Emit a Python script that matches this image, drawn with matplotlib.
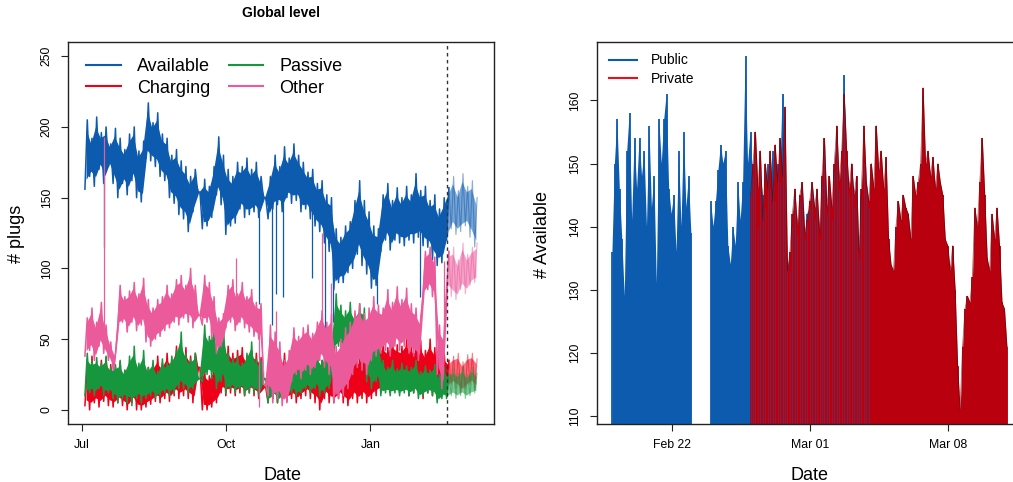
import numpy as np
import pandas as pd
import matplotlib
matplotlib.use("Agg")
import matplotlib.pyplot as plt
import matplotlib.dates as mdates
from matplotlib.lines import Line2D

plt.rcParams["font.family"] = ["Liberation Sans", "DejaVu Sans"]

nan = float("nan")

# -----------------------------------------------------------------------------
# LEFT PANEL: 3-day bins starting 2020-07-02, low / high envelope per bin
# -----------------------------------------------------------------------------
bin_start = "2020-07-02"
bin_days = 3
split_date = "2021-02-19 06:00"

available_lo = [156, 165, 158, 170, 160, 172, 160, 150, 160, 152,
                162, 150, 147, 178, 176, 172, 165, 162, 150, 146,
                138, 135, 126, 140, 154, 128, 130, 136, 152, 145,
                124, 130, 132, 142, 136, 138, 140, 136, 150, 135,
                142, 145, 140, 150, 146, 148, 140, 142, 135, 130,
                126, 118, 112, 85, 90, 90, 97, 100, 110, 102,
                96, 86, 88, 112, 120, 113, 120, 118, 116, 120,
                118, 122, 116, 115, 106, 102, 104, 120, 128, 124,
                126, 130, 122, 115]
available_hi = [205, 192, 207, 196, 200, 188, 199, 192, 184, 195,
                200, 183, 190, 217, 203, 210, 195, 192, 180, 184,
                176, 172, 165, 170, 154, 163, 158, 172, 193, 180,
                170, 165, 175, 172, 178, 170, 175, 165, 150, 165,
                180, 172, 186, 178, 188, 180, 175, 168, 170, 160,
                162, 152, 150, 128, 122, 130, 133, 148, 162, 148,
                140, 130, 128, 152, 160, 148, 157, 150, 158, 152,
                167, 155, 158, 148, 152, 142, 150, 157, 165, 155,
                167, 158, 162, 150]

charging_lo = [3, 0, 5, 2, 6, 3, 2, 5, 3, 0,
               5, 0, 0, 2, 4, 6, 5, 8, 6, 10,
               8, 10, 8, 5, 30, 0, 0, 2, 5, 12,
               10, 12, 10, 12, 10, 12, 10, 8, 16, 5,
               8, 5, 8, 6, 8, 5, 8, 10, 8, 5,
               0, 8, 5, 5, 8, 5, 3, 8, 5, 8,
               5, 8, 10, 12, 15, 12, 15, 12, 15, 10,
               12, 15, 8, 12, 10, 8, 10, 15, 18, 15,
               12, 15, 18, 15]
charging_hi = [32, 38, 30, 35, 37, 32, 30, 34, 28, 30,
               35, 28, 25, 30, 32, 38, 33, 40, 36, 45,
               40, 44, 38, 40, 30, 28, 24, 30, 35, 44,
               45, 40, 42, 44, 38, 42, 40, 37, 16, 30,
               38, 33, 40, 35, 38, 34, 40, 45, 38, 40,
               35, 45, 40, 35, 42, 36, 35, 41, 37, 43,
               35, 40, 45, 48, 44, 50, 46, 45, 50, 46,
               45, 49, 42, 50, 44, 42, 40, 35, 38, 40,
               34, 39, 40, 36]

passive_lo = [10, 12, 10, 15, 10, 12, 8, 5, 8, 5,
              3, 8, 5, 8, 10, 8, 10, 12, 10, 12,
              15, 15, 12, 15, 22, 20, 25, 22, 15, 20,
              12, 15, 12, 15, 10, 12, 12, 10, 22, 5,
              8, 5, 8, 10, 12, 10, 12, 15, 12, 15,
              10, 12, 15, 40, 45, 38, 40, 42, 35, 40,
              20, 15, 20, 10, 12, 10, 12, 10, 12, 10,
              12, 8, 10, 12, 10, 5, 8, 8, 10, 8,
              10, 8, 10, 12]
passive_hi = [40, 35, 37, 33, 38, 30, 32, 35, 28, 38,
              45, 33, 42, 30, 35, 27, 36, 33, 38, 42,
              55, 40, 36, 40, 22, 60, 52, 58, 45, 62,
              40, 36, 38, 33, 40, 48, 36, 35, 22, 30,
              35, 27, 31, 30, 35, 29, 33, 36, 32, 40,
              35, 42, 45, 82, 74, 70, 76, 68, 75, 72,
              55, 48, 50, 35, 30, 35, 29, 33, 31, 30,
              35, 27, 31, 28, 32, 25, 30, 25, 29, 26,
              30, 25, 30, 26]

other_lo = [38, 42, 35, 45, 40, 35, 28, 58, 62, 55,
            62, 56, 60, 48, 45, 50, 52, 56, 58, 62,
            60, 65, 62, 58, 67, 60, 62, 50, 40, 45,
            58, 62, 56, 62, 58, 55, 52, 50, 18, 10,
            5, 8, 3, 5, 20, 25, 22, 28, 25, 30,
            35, 30, 25, 5, 8, 10, 15, 25, 30, 28,
            25, 35, 38, 40, 42, 38, 45, 42, 45, 40,
            38, 35, 80, 85, 80, 25, 15, 85, 80, 78,
            85, 82, 88, 90]
other_hi = [65, 72, 62, 76, 60, 48, 40, 88, 80, 84,
            90, 82, 93, 78, 72, 78, 80, 88, 82, 92,
            95, 88, 100, 88, 67, 95, 90, 80, 65, 68,
            88, 92, 82, 90, 80, 85, 76, 75, 18, 60,
            55, 48, 35, 42, 58, 52, 58, 60, 54, 62,
            70, 62, 68, 45, 50, 58, 62, 70, 75, 68,
            72, 80, 74, 72, 85, 76, 87, 78, 86, 75,
            72, 65, 112, 115, 108, 60, 55, 112, 115, 106,
            118, 110, 115, 118]

# isolated spikes (single readings far from the band)
available_spike_dates = ["2020-07-15", "2020-10-22", "2020-10-30", "2020-11-02",
                         "2020-11-06", "2020-11-25", "2020-12-03", "2020-12-08",
                         "2021-01-05", "2021-02-02"]
available_spike_values = [115, 75, 60, 82, 80, 93, 56, 62, 75, 80]
other_spike_dates = ["2020-07-15", "2020-10-07", "2020-10-22", "2020-11-02",
                     "2020-12-01", "2020-12-07", "2021-02-17"]
other_spike_values = [193, 107, 2, 70, 125, 90, 105]

# -----------------------------------------------------------------------------
# RIGHT PANEL: 3-hourly readings
# -----------------------------------------------------------------------------
public_start = "2021-02-19"
public_available = [136, 150, 157, 146, 138, 129, 152, 158, 141, 154,
                    146, 154, 148, 152, 140, 156, 143, 148, 131, 157,
                    150, 157, 161, 146, 142, 145, 136, 152, 140, 155,
                    143, 148, 139, nan, nan, nan, nan, nan, nan, nan,
                    144, 140, 144, 149, 153, 150, 152, 137, 134, 140,
                    137, 147, 141, 147, 167, 150, 155,
                    148, 151, 140, 149, 145, 143, 150, 146, 152, 144,
                    150, 147, 161, 150, 135, 133, 140, 145, 139, 144,
                    146, 138, 142, 143, 146, 141, 145, 138, 147, 152,
                    142, 146, 141, 149, 154, 146, 150, 164, 150, 145,
                    148, 143, 146, 135, 145, 150, 146, 143]
private_start = "2021-02-26"
private_available = [145, 150, 155, 146, 152, 141, 150, 146, 152, 144,
                     153, 147, 154, 148, 159, 133, 136, 142, 146, 140,
                     145, 147, 139, 141, 144, 147, 143, 146, 139, 148,
                     154, 143, 148, 143, 150, 156, 147, 152, 161, 152,
                     146, 150, 145, 148, 136, 146, 156, 147, 144, 150,
                     146, 156, 149, 152, 146, 151, 138, 134, 133, 140,
                     144, 141, 145, 143, 142, 138, 148, 145, 147, 150,
                     162, 150, 152, 148, 151, 146, 150, 147, 145, 138,
                     137, 133, 137, 130, 118, 111, 121, 127, 129, 128,
                     132, 143, 140, 147, 154, 145, 135, 133, 142, 138,
                     143, 137, 128, 127, 121]

BLUE = "#0D5BAF"
RED = "#EE0019"
GREEN = "#16973E"
PINK = "#EB5A9B"
RED_DARK = "#B9000F"

# -----------------------------------------------------------------------------
# FIGURE
# -----------------------------------------------------------------------------
fig = plt.figure(figsize=(10.13, 4.82), dpi=100)
ax1 = fig.add_axes([0.0671, 0.1203, 0.4206, 0.7925])
ax2 = fig.add_axes([0.589, 0.1203, 0.4206, 0.7925])

nb = len(available_lo)
t0 = mdates.date2num(pd.Timestamp(bin_start))
idx = np.arange(nb)
centers = t0 + bin_days * idx + 1.5
t_lo = t0 + bin_days * idx + 0.75
t_hi = t0 + bin_days * idx + 2.25
zig_t = np.column_stack([t_lo, t_hi]).ravel()
split = mdates.date2num(pd.Timestamp(split_date))
c_cut = np.searchsorted(centers, split)
z_cut = np.searchsorted(zig_t, split)


def draw_band(ax, lo, hi, color, z):
    lo = np.asarray(lo, float)
    hi = np.asarray(hi, float)
    zig_v = np.column_stack([lo, hi]).ravel()
    # solid body of the band, spiky fringe from the zigzag
    body_lo = lo + 0.14 * (hi - lo)
    body_hi = hi - 0.14 * (hi - lo)
    ax.fill_between(centers[:c_cut + 1], body_lo[:c_cut + 1], body_hi[:c_cut + 1],
                    color=color, lw=0, zorder=z)
    ax.plot(zig_t[:z_cut + 1], zig_v[:z_cut + 1], color=color, lw=1.1, zorder=z)
    # after the split: faded
    ax.fill_between(centers[c_cut:], body_lo[c_cut:], body_hi[c_cut:],
                    color=color, alpha=0.55, lw=0, zorder=z)
    ax.plot(zig_t[z_cut:], zig_v[z_cut:], color=color, lw=0.8, alpha=0.5, zorder=z)
    return (lo + hi) / 2


def draw_spikes(ax, dates, values, mid, color, z):
    xs = mdates.date2num(pd.to_datetime(dates))
    base = np.interp(xs, centers, mid)
    ax.vlines(xs, values, base, color=color, lw=0.9, zorder=z)


mid_av = draw_band(ax1, available_lo, available_hi, BLUE, 2)
draw_spikes(ax1, available_spike_dates, available_spike_values, mid_av, BLUE, 2)
draw_band(ax1, charging_lo, charging_hi, RED, 3)
draw_band(ax1, passive_lo, passive_hi, GREEN, 4)
mid_ot = draw_band(ax1, other_lo, other_hi, PINK, 5)
draw_spikes(ax1, other_spike_dates, other_spike_values, mid_ot, PINK, 5)

ax1.axvline(split, color="#333333", lw=1.0, ls=(0, (2.5, 2.5)), zorder=6)

span = (t0, t0 + bin_days * nb)
pad = 0.04 * (span[1] - span[0])
ax1.set_xlim(span[0] - pad, span[1] + pad)
ax1.set_ylim(-10, 260)
ax1.set_yticks([0, 50, 100, 150, 200, 250])
month_ticks = pd.to_datetime(["2020-07-01", "2020-10-01", "2021-01-01"])
ax1.set_xticks(mdates.date2num(month_ticks))
ax1.set_xticklabels([d.strftime("%b") for d in month_ticks])

handles = [Line2D([], [], color=BLUE, lw=1.5), Line2D([], [], color=RED, lw=1.5),
           Line2D([], [], color=GREEN, lw=1.5), Line2D([], [], color=PINK, lw=1.5)]
ax1.legend(handles, ["Available", "Charging", "Passive", "Other"], ncol=2,
           loc="upper left", bbox_to_anchor=(0.043, 0.957), frameon=False,
           fontsize=13, handlelength=1.9, handletextpad=0.9, columnspacing=1.05,
           labelspacing=0.23, borderpad=0, borderaxespad=0)

# right panel
pub = np.asarray(public_available, float)
prv = np.asarray(private_available, float)
t_pub = mdates.date2num(pd.date_range(public_start, periods=len(pub), freq="3h"))
t_prv = mdates.date2num(pd.date_range(private_start, periods=len(prv), freq="3h"))

ax2.fill_between(t_pub, 100, pub, color=BLUE, lw=0, zorder=2)
ax2.vlines(t_pub, 100, pub, color=BLUE, lw=1.3, zorder=2)
ax2.fill_between(t_prv, 100, prv, color=RED_DARK, lw=0, zorder=3)
ax2.vlines(t_prv, 100, prv, color=RED_DARK, lw=1.3, zorder=3)
ax2.plot(t_prv, prv, color="#5E0000", lw=0.6, alpha=0.6, zorder=5)
over = t_pub >= t_prv[0]
ax2.vlines(t_pub[over], 100, pub[over], color=BLUE, lw=0.7, alpha=0.4, zorder=4)

x_lo = min(t_pub[0], t_prv[0])
x_hi = max(t_pub[-1], t_prv[-1])
pad = 0.04 * (x_hi - x_lo)
ax2.set_xlim(x_lo - pad, x_hi + pad)
y_lo = min(np.nanmin(pub), np.nanmin(prv))
y_hi = max(np.nanmax(pub), np.nanmax(prv))
pad = 0.04 * (y_hi - y_lo)
ax2.set_ylim(y_lo - pad, y_hi + pad)
ax2.set_yticks([110, 120, 130, 140, 150, 160])
day_ticks = pd.to_datetime(["2021-02-22", "2021-03-01", "2021-03-08"])
ax2.set_xticks(mdates.date2num(day_ticks))
ax2.set_xticklabels([d.strftime("%b %d") for d in day_ticks])

ax2.legend([Line2D([], [], color=BLUE, lw=1.5), Line2D([], [], color="#E8101C", lw=1.5)],
           ["Public", "Private"], loc="upper left", bbox_to_anchor=(0.03, 0.970),
           frameon=False, fontsize=10, handlelength=2.0, handletextpad=0.95,
           labelspacing=0.29, borderpad=0, borderaxespad=0)

for ax in (ax1, ax2):
    ax.tick_params(length=5, width=0.8, pad=6, labelsize=8.8, color="#222222")
    for lab in ax.get_yticklabels():
        lab.set_rotation(90)
        lab.set_va("center")
    for s in ax.spines.values():
        s.set_linewidth(1.0)
        s.set_color("#222222")
        s.set_zorder(6)

fig.text(0.2774, 0.973, "Global level", ha="center", va="center",
         fontsize=10, fontweight="bold")
fig.text(0.0163, 0.5145, "# plugs", ha="center", va="center", rotation=90, fontsize=13)
fig.text(0.2789, 0.0045, "Date", ha="center", va="baseline", fontsize=13)
fig.text(0.5355, 0.5145, "# Available", ha="center", va="center", rotation=90, fontsize=13)
fig.text(0.7993, 0.0045, "Date", ha="center", va="baseline", fontsize=13)

fig.savefig("out.png", dpi=100)
